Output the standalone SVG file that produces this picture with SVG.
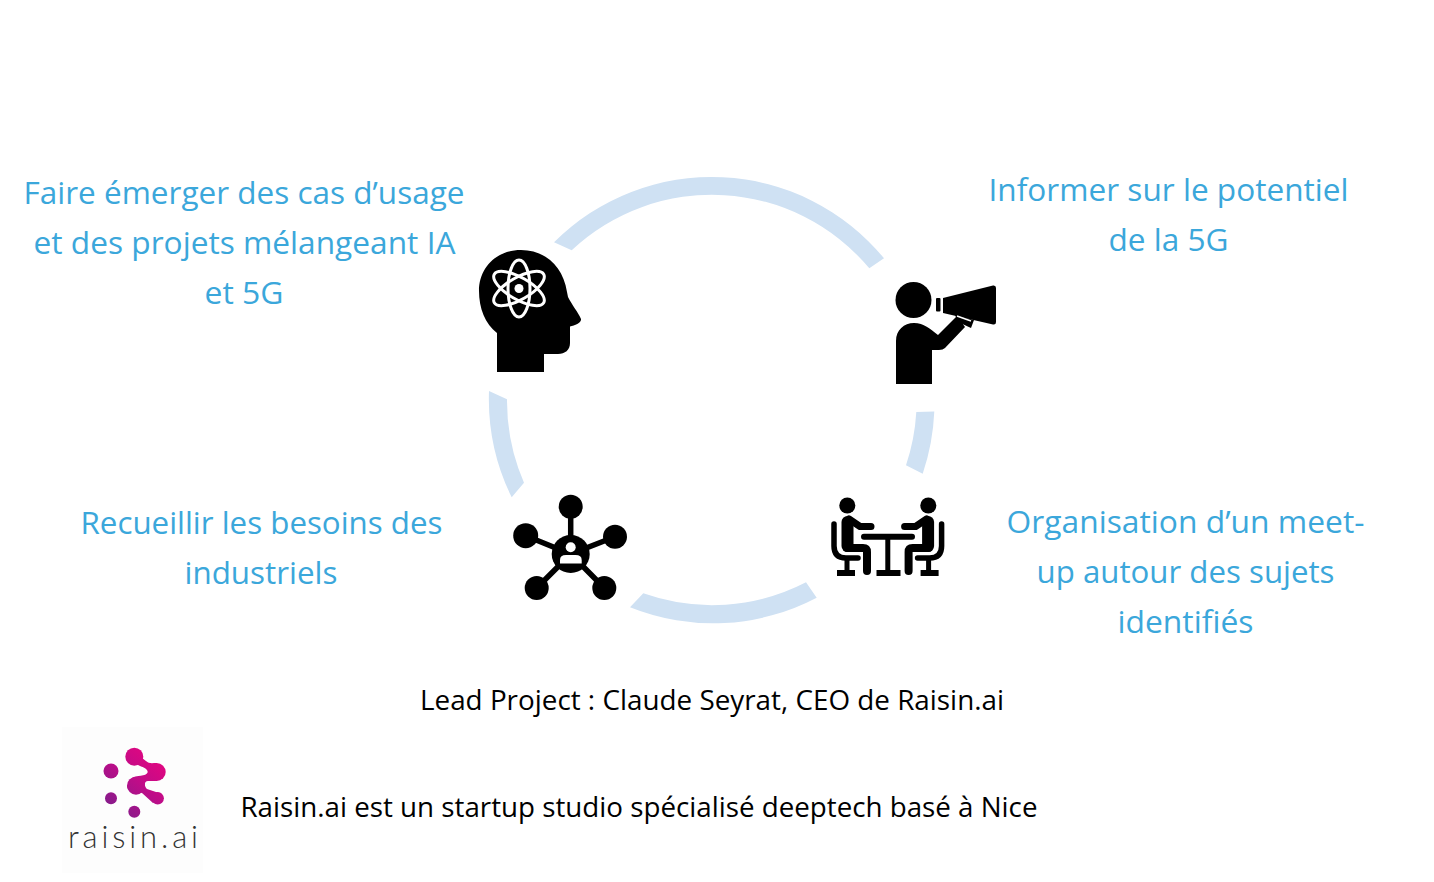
<svg xmlns="http://www.w3.org/2000/svg" width="1434" height="882" viewBox="0 0 1434 882">
<defs>
<style>
.t{font-family:"Open Sans","Noto Sans","Liberation Sans",sans-serif;text-anchor:start}
.b{font-size:31.5px;fill:#3BA7DB}
.k{font-size:27.5px;fill:#000}
.arc{fill:#CFE1F3}
.a{fill:none;stroke:#fff;stroke-width:3}
.l{fill:none;stroke:#000;stroke-linecap:round;stroke-linejoin:round}
</style>
<linearGradient id="g" gradientUnits="userSpaceOnUse" x1="160" y1="752" x2="108" y2="812">
<stop offset="0" stop-color="#E8057F"/><stop offset="0.45" stop-color="#C00C88"/><stop offset="1" stop-color="#7F1D8B"/>
</linearGradient>
<g id="sitter">
<circle cx="847.3" cy="505.5" r="8"/>
<path class="l" stroke-width="12" d="M847.500 522V546"/>
<path class="l" stroke-width="7" d="M849 519L860 526.500H871"/>
<path class="l" stroke-width="8" d="M847 548H863Q867 548 867 552V571"/>
<path class="l" stroke-width="5.500" d="M834 524V546Q834 558 846 558H858"/>
<path d="M844.500 558H849.500V570H855V576H837V570H844.500Z"/>
</g>
</defs>
<rect width="1434" height="882" fill="#fff"/>
<g id="connectors">
<path class="arc" d="M554 242.300A223 223 0 0 1 884 258.300L869.300 268.300A205 205 0 0 0 571.700 250.300Z"/>
<path class="arc" d="M934.300 411.500A223 223 0 0 1 922.700 473.700L906 465.300A205 205 0 0 0 916.300 412Z"/>
<path class="arc" d="M816.700 597.700A223 223 0 0 1 630 607.300L643.300 593.300A205 205 0 0 0 806 582.300Z"/>
<path class="arc" d="M511.700 497.300A223 223 0 0 1 489 391L507 399.300A205 205 0 0 0 524 482.700Z"/>
</g>
<g id="node-emerger">
<path d="M497 372V333C485 324 479 308 479 291C479 267 497 250 521 250C545 250 563 266 567 292L568 297C572 305 578 312 581 319C581.500 323 575 325 570 326.500V343C570 350 565 354 558 354H544V372Z"/>
<g class="a"><ellipse cx="519" cy="288.500" rx="11" ry="28.500"/><ellipse cx="519" cy="288.500" rx="11" ry="28.500" transform="rotate(60 519 288.500)"/><ellipse cx="519" cy="288.500" rx="11" ry="28.500" transform="rotate(-60 519 288.500)"/></g>
<circle cx="519" cy="288.500" r="4.500" fill="#fff"/>
<text class="t b" x="23.500" y="204" textLength="441" lengthAdjust="spacingAndGlyphs">Faire émerger des cas d’usage</text>
<text class="t b" x="33.500" y="254" textLength="422" lengthAdjust="spacingAndGlyphs">et des projets mélangeant IA</text>
<text class="t b" x="204.500" y="304" textLength="79" lengthAdjust="spacingAndGlyphs">et 5G</text>
</g>
<g id="node-informer">
<circle cx="913.500" cy="300" r="18"/>
<path d="M896 384V341C896 330 904 323 914 323C924 323 930 329 938 335L957 316L965 327L945 348Q943 350 939 350H932V384Z"/>
<path d="M943 298L993 285.500Q996 285 996 288V322Q996 325 993 324.500L943 313Z"/>
<rect x="936" y="298" width="4.500" height="13.500" rx="1"/>
<path d="M955 315L974 320L971 328L958 322Z"/>
<path d="M957 316L971 321" stroke="#fff" stroke-width="1.600" fill="none"/>
<text class="t b" x="988.500" y="201" textLength="360" lengthAdjust="spacingAndGlyphs">Informer sur le potentiel</text>
<text class="t b" x="1108.500" y="251" textLength="120" lengthAdjust="spacingAndGlyphs">de la 5G</text>
</g>
<g id="node-meetup">
<use href="#sitter"/>
<use href="#sitter" transform="translate(1775.600 0) scale(-1 1)"/>
<path class="l" stroke-width="6" d="M864 536.700H912"/>
<path d="M885.300 537H890.300V570H900.500V576H876.500V570H885.300Z"/>
<text class="t b" x="1006.500" y="533" textLength="358" lengthAdjust="spacingAndGlyphs">Organisation d’un meet-</text>
<text class="t b" x="1036.500" y="583" textLength="298" lengthAdjust="spacingAndGlyphs">up autour des sujets</text>
<text class="t b" x="1117.500" y="633" textLength="136" lengthAdjust="spacingAndGlyphs">identifiés</text>
</g>
<g id="node-besoins">
<g stroke="#000" stroke-width="5.500" fill="none"><path d="M570.700 507V554"/><path d="M525.700 535.700L570.700 554L615 536.700"/><path d="M536.700 588L570.700 554L604.300 588"/></g>
<circle cx="570.700" cy="506.700" r="12"/><circle cx="525.700" cy="535.700" r="12.500"/><circle cx="615" cy="536.700" r="12"/><circle cx="536.700" cy="588" r="12"/><circle cx="604.300" cy="588" r="12"/>
<circle cx="570.700" cy="554" r="19"/>
<circle cx="570.700" cy="547.300" r="5" fill="#fff"/>
<path d="M560 563.500V560Q560 555 566 555H575.500Q581.700 555 581.700 560V563.500Z" fill="#fff"/>
<text class="t b" x="80.500" y="534" textLength="362" lengthAdjust="spacingAndGlyphs">Recueillir les besoins des</text>
<text class="t b" x="184.500" y="584" textLength="153" lengthAdjust="spacingAndGlyphs">industriels</text>
</g>
<g id="lead">
<text class="t k" x="420" y="710" textLength="584" lengthAdjust="spacingAndGlyphs">Lead Project : Claude Seyrat, CEO de Raisin.ai</text>
</g>
<g id="logo">
<rect x="62" y="727" width="141" height="146" fill="#FDFDFD"/>
<g fill="url(#g)">
<circle cx="134.300" cy="756.700" r="9"/><circle cx="156.700" cy="772" r="9"/><circle cx="136" cy="785.700" r="9"/><circle cx="157.700" cy="798.300" r="6.200"/>
<circle cx="111" cy="771" r="7.500"/><circle cx="111" cy="798.300" r="6"/><circle cx="134.300" cy="811.700" r="6"/>
<path d="M134 752L146 761C149 764 152 763 157 763V781H148C144 781 144 786 147 789L162 794L153 803L142 793C138 792 128 794 127 786L132 778C136 775 146 777 148 772C147 768 142 767 138 765L126 760Z"/>
</g>
<text x="68" y="848" font-family="Lato,Inter,sans-serif" font-weight="300" font-size="31" fill="#333" textLength="130" lengthAdjust="spacing">raisin.ai</text>
</g>
<g id="studio">
<text class="t k" x="240.500" y="817" textLength="797" lengthAdjust="spacingAndGlyphs">Raisin.ai est un startup studio spécialisé deeptech basé à Nice</text>
</g>
</svg>
